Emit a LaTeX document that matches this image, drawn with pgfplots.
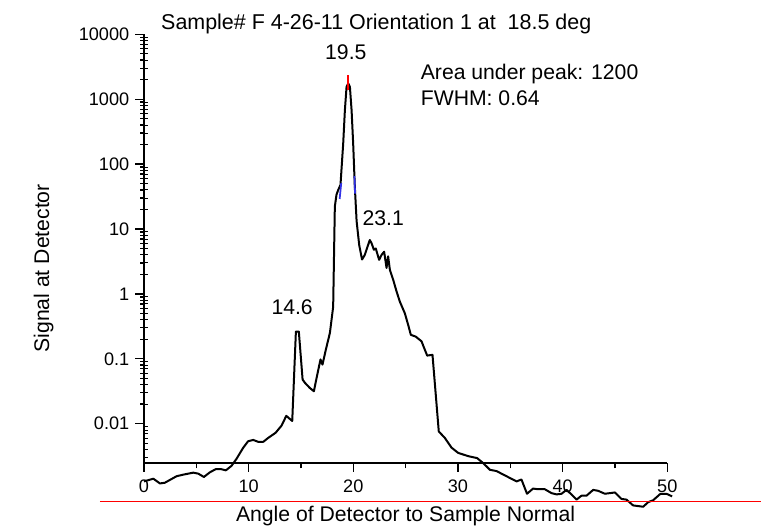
\documentclass[border=0pt]{standalone}
\usepackage{fontspec}
\setmainfont{Liberation Sans}
\usepackage{pgfplots}
\pgfplotsset{compat=1.18}

\definecolor{markblue}{RGB}{50,50,230}

\begin{document}
\begin{tikzpicture}
\begin{axis}[
    scale only axis, width=392.8pt, height=321.75pt,
    xmin=0, xmax=50, ymode=log, ymin=0.00248, ymax=10000,
    clip=false,
    axis x line=bottom, axis y line=left,
    axis line style={-, line width=1.1pt, black},
    tick pos=left,
    xtick={0,10,20,30,40,50},
    ytick={0.01,0.1,1,10,100,1000,10000},
    yticklabels={0.01,0.1,1,10,100,1000,10000},
    tick align=outside,
    major tick length=6.5pt,
    every tick/.style={black, line width=1pt},
    extra x ticks={5,15,25,35,45},
    extra x tick labels={},
    extra x tick style={major tick length=4pt, tick align=outside},
    extra y ticks={0.003,0.004,0.005,0.006,0.007,0.008,0.009,
        0.02,0.03,0.04,0.05,0.06,0.07,0.08,0.09,
        0.2,0.3,0.4,0.5,0.6,0.7,0.8,0.9,
        2,3,4,5,6,7,8,9,20,30,40,50,60,70,80,90,
        200,300,400,500,600,700,800,900,
        2000,3000,4000,5000,6000,7000,8000,9000},
    extra y tick labels={},
    extra y tick style={major tick length=3pt, tick align=inside,
        every tick/.style={black, line width=0.7pt}},
    /pgf/number format/assume math mode=true,
    tick label style={font=\fontsize{13.6}{15}\selectfont, black},
    yticklabel style={xshift=-1pt},
    xticklabel style={yshift=-2.5pt},
]

% measured curve
\addplot[black, line width=1.5pt, line join=round] coordinates {
(0.00,0.00129) (0.90,0.00142) (1.53,0.00120) (2.00,0.00123) (3.12,0.00155)
(3.76,0.00164) (4.71,0.00176) (5.19,0.00170) (5.73,0.00151) (6.30,0.00178)
(6.88,0.00200) (7.32,0.00200) (7.83,0.00191) (8.37,0.00224) (8.85,0.00288)
(9.49,0.00427) (9.96,0.00537) (10.44,0.00562) (10.92,0.00525) (11.40,0.00525)
(11.87,0.00603) (12.58,0.00724) (13.15,0.00933) (13.60,0.0132) (14.17,0.0110)
(14.52,0.263) (14.80,0.263) (15.16,0.0479) (15.38,0.0427) (15.85,0.0355)
(16.24,0.0316) (16.49,0.0501) (16.87,0.0977) (17.06,0.0813) (17.38,0.138)
(17.77,0.251) (18.08,0.631) (18.24,22.2) (18.40,33.9) (18.56,39.8)
(18.78,47.9) (19.04,209) (19.20,676) (19.36,1549) (19.52,1758)
(19.68,1549) (19.84,676) (19.99,209) (20.15,44.7) (20.32,13.2)
(20.57,5.62) (20.84,3.39) (21.10,3.98) (21.37,5.37) (21.58,6.76)
(21.75,6.03) (21.97,4.79) (22.15,5.01) (22.47,3.35) (22.70,3.98)
(22.95,4.47) (23.18,2.51) (23.33,3.80) (23.50,2.34) (23.81,1.66)
(24.13,1.10) (24.45,0.759) (24.93,0.501) (25.25,0.331) (25.50,0.234)
(25.98,0.219) (26.52,0.186) (27.06,0.112) (27.57,0.115) (28.17,0.00759)
(28.75,0.00603) (29.39,0.00427) (30.02,0.00355) (30.98,0.00316) (31.83,0.00295)
(32.40,0.00248) (33.05,0.00195) (33.69,0.00186) (34.64,0.00155) (35.60,0.00129)
(36.07,0.00138) (36.60,0.000832) (37.18,0.00100) (37.66,0.000977) (38.30,0.000977)
(38.94,0.000851) (39.42,0.000813) (39.90,0.000832) (40.37,0.000955) (40.85,0.000813)
(41.33,0.000676) (41.80,0.000776) (42.28,0.000776) (42.92,0.000955) (43.40,0.000923)
(44.04,0.000832) (45.00,0.000871) (45.63,0.000692) (46.10,0.000676) (46.74,0.000550)
(47.70,0.000525) (48.17,0.000617) (48.65,0.000661) (49.35,0.000832) (49.92,0.000832)
(50.46,0.000759)
};

% peak and half-width markers
\addplot[red, line width=0.9pt] coordinates {(19.5,1380) (19.5,2400)};
\addplot[markblue, line width=1.3pt] coordinates {(18.70,29) (18.85,51)};
\addplot[markblue, line width=1.3pt] coordinates {(20.17,35) (20.12,65)};

% red baseline under the axis
\addplot[red, line width=0.8pt] coordinates {(-4.2,0.000637) (59.0,0.000637)};

\node[anchor=base, font=\fontsize{15.9}{18}\selectfont] at (axis cs:19.29,4020) {19.5};
\node[anchor=base, font=\fontsize{15.9}{18}\selectfont] at (axis cs:22.87,11.2) {23.1};
\node[anchor=base, font=\fontsize{15.9}{18}\selectfont] at (axis cs:14.16,0.489) {14.6};
\node[anchor=base west, inner sep=0pt, font=\fontsize{15.9}{18}\selectfont] at (axis cs:26.43,1977) {Area under peak: 1200};
\node[anchor=base west, inner sep=0pt, font=\fontsize{15.9}{18}\selectfont] at (axis cs:26.43,787) {FWHM: 0.64};

\node[anchor=base west, inner sep=0pt, font=\fontsize{16.1}{18}\selectfont] at (rel axis cs:0.0325,1.012) {Sample\# F 4-26-11 Orientation 1 at~~18.5 deg};
\node[anchor=base, inner sep=0pt, font=\fontsize{15.9}{18}\selectfont] at (rel axis cs:0.5,-0.137) {Angle of Detector to Sample Normal};
\node[anchor=base, rotate=90, inner sep=0pt, font=\fontsize{15.9}{18}\selectfont] at (rel axis cs:-0.181,0.454) {Signal at Detector};

\path (rel axis cs:-0.275,1.08) rectangle (rel axis cs:1.18,-0.153);
\end{axis}
\end{tikzpicture}
\end{document}
